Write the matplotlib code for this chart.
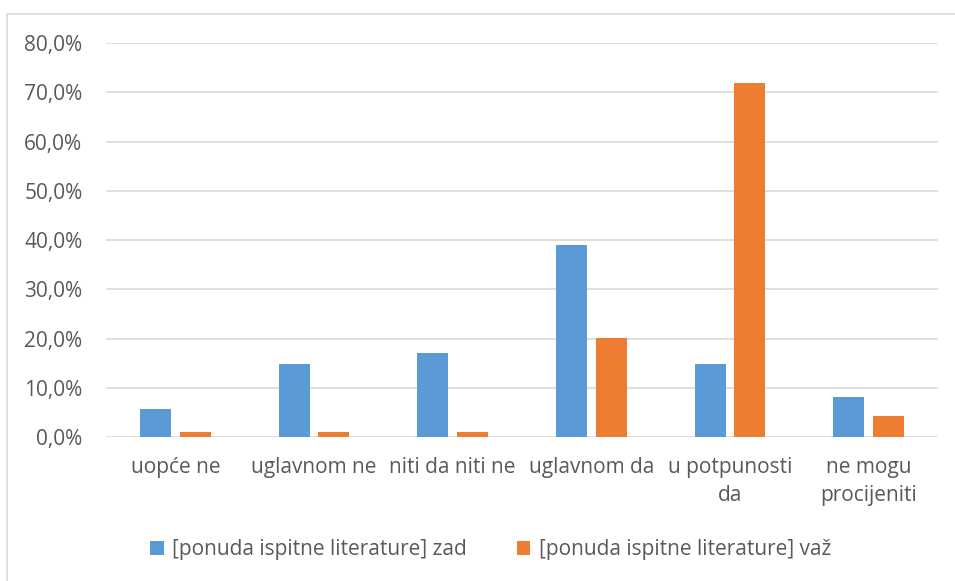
import matplotlib.pyplot as plt
import numpy as np
from matplotlib.patches import Rectangle
from matplotlib.ticker import FuncFormatter

categories = ["uopće ne", "uglavnom ne", "niti da niti ne", "uglavnom da", "u potpunosti\nda", "ne mogu\nprocijeniti"]
zad = [5.8, 14.8, 17.2, 39.0, 14.8, 8.1]
vaz = [1.1, 1.1, 1.1, 20.2, 71.9, 4.3]
series_names = ["[ponuda ispitne literature] zad", "[ponuda ispitne literature] važ"]

BLUE = "#5B9BD5"
ORANGE = "#ED7D31"
TXT = "#595959"
GRID = "#D9D9D9"

plt.rcParams['font.family'] = ['Open Sans', 'DejaVu Sans']

W, H = 955, 581
fig = plt.figure(figsize=(W / 100, H / 100), dpi=100)
ax = fig.add_axes([106 / W, 1 - 437.3 / H, (938 - 106) / W, (437.3 - 43) / H])

# outer chart border (right and bottom edges fall outside the picture)
fig.patches.append(Rectangle((6.5 / W, -0.1), 1.2, 1 - 13.5 / H + 0.1, transform=fig.transFigure,
                             fill=False, edgecolor=GRID, linewidth=1.2))

x = np.arange(len(categories))
w = 0.224
off = 0.143
ax.bar(x - off, zad, w, color=BLUE, label=series_names[0], zorder=3)
ax.bar(x + off, vaz, w, color=ORANGE, label=series_names[1], zorder=3)

ax.set_xlim(-0.5, len(categories) - 0.5)
ax.set_ylim(0, 80)
ax.set_yticks(np.arange(0, 81, 10))
ax.yaxis.set_major_formatter(FuncFormatter(lambda v, p: f"{v:.1f}%".replace(".", ",")))
ax.grid(axis='y', color=GRID, linewidth=1.2, zorder=0)
for s in ax.spines.values():
    s.set_visible(False)
ax.tick_params(axis='both', length=0, labelsize=15, colors=TXT)
ax.tick_params(axis='y', pad=17)
ax.tick_params(axis='x', pad=14)
ax.set_xticks(x)
ax.set_xticklabels(categories, linespacing=1.45)

fig.legend(loc='center', bbox_to_anchor=(0.5 + 13 / W, 1 - 550 / H), ncol=2, frameon=False,
           fontsize=15, labelcolor=TXT, handlelength=0.65, handleheight=0.65,
           handletextpad=0.4, columnspacing=2.4)

fig.savefig("out.png", dpi=100)
